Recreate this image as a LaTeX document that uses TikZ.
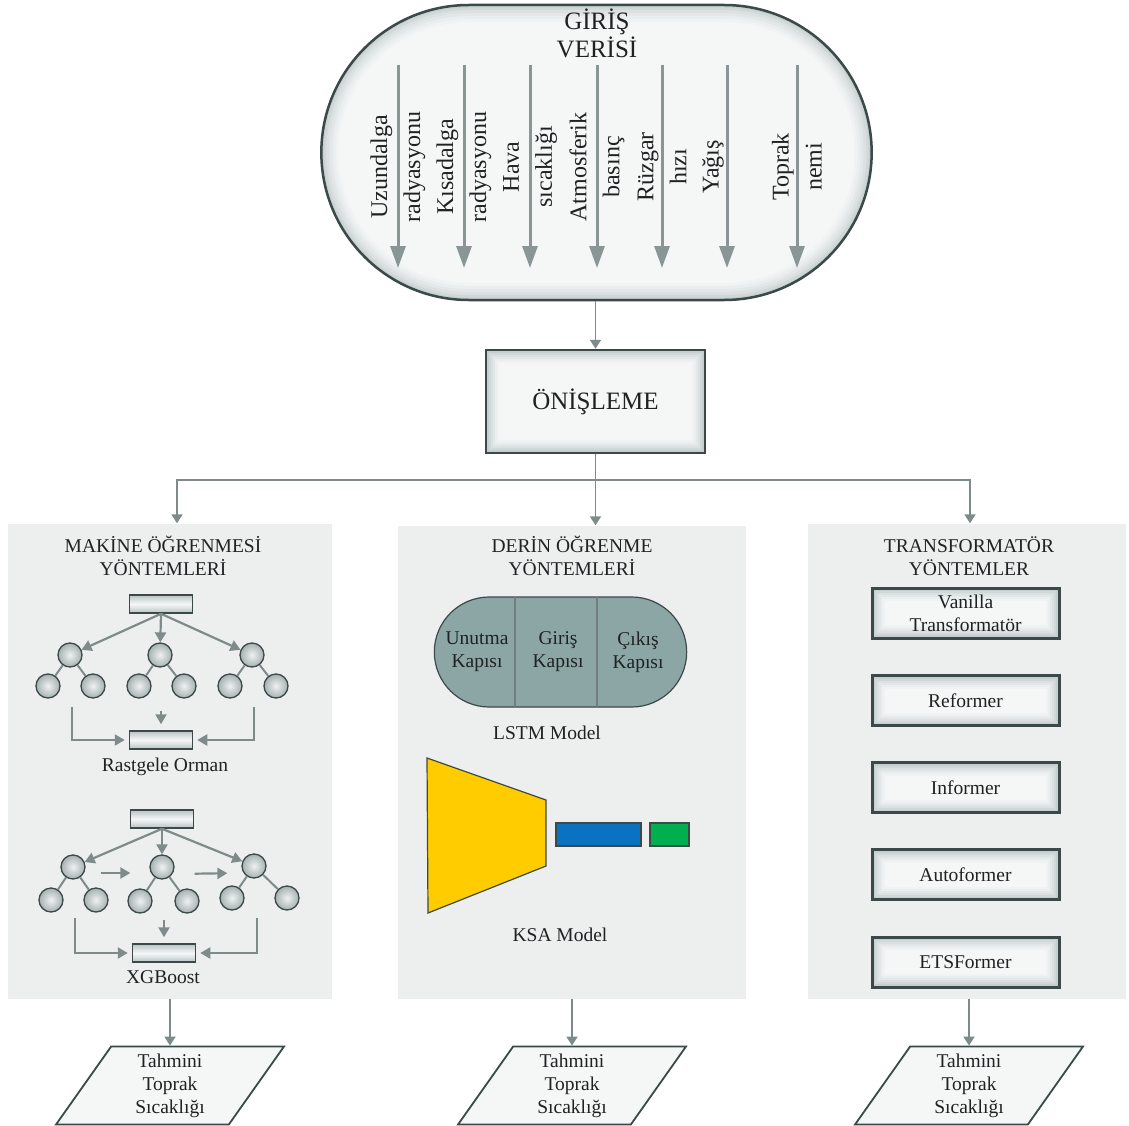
\documentclass[tikz,border=0pt]{standalone}
\usepackage{fontspec}
\setmainfont{Liberation Serif}
\usetikzlibrary{arrows.meta,shapes.misc,shapes.geometric,calc}
\definecolor{dk}{HTML}{3B4949}
\definecolor{arr}{HTML}{7F8B8B}
\definecolor{arrb}{HTML}{8A9595}
\definecolor{panelc}{HTML}{EDEFEF}
\definecolor{boxf}{HTML}{F5F7F7}
\definecolor{ga}{HTML}{E8ECEC}
\definecolor{gc}{HTML}{B9C3C3}
\definecolor{ballo}{HTML}{A7B1B1}
\definecolor{balli}{HTML}{EEF1F1}
\definecolor{lstmc}{HTML}{8CA6A6}
\definecolor{ksay}{HTML}{FFCC00}
\definecolor{ksab}{HTML}{0A72C0}
\definecolor{ksag}{HTML}{00B050}
\definecolor{txtc}{HTML}{1E2222}
\tikzset{
  lbl/.style={text=txtc, font=\fontsize{19.5}{23}\selectfont, align=center, inner sep=0pt},
  big/.style={text=txtc, font=\fontsize{25}{28}\selectfont, align=center, inner sep=0pt},
  vlbl/.style={text=txtc, font=\fontsize{24}{33}\selectfont, align=center, inner sep=0pt, rotate=90},
  flow/.style={draw=arr, line width=1.8pt, -{Triangle[width=11pt,length=9pt]}},
  tarr/.style={draw=arr, line width=2.2pt, -{Triangle[width=11pt,length=10pt]}},
  tline/.style={draw=arr, line width=2pt},
  inarr/.style={draw=arrb, line width=3pt, -{Triangle[width=15pt,length=22pt]}},
  glowrect/.style={path picture={
    \foreach \w/\p in {26/8,22/18,18/30,14/44,10/60,6/78}{
    \draw[line width=\w pt, gc!\p!boxf] (path picture bounding box.south west) rectangle (path picture bounding box.north east);}}},
  glowstad/.style={path picture={
    \foreach \w/\p in {34/8,28/18,22/30,16/44,10/60,5/78}{
    \draw[line width=\w pt, gc!\p!boxf, rounded corners=147pt] (path picture bounding box.south west) rectangle (path picture bounding box.north east);}}},
  panel/.style={rectangle, fill=panelc, inner sep=0pt},
  tbox/.style={rectangle, draw=dk, line width=3pt, fill=boxf, glowrect, minimum width=187pt, minimum height=50pt, lbl},
  sbox/.style={rectangle, draw=dk, line width=1.5pt, top color=gc, bottom color=gc, middle color=boxf, minimum width=63pt, minimum height=18pt, inner sep=0pt},
  ball/.style={circle, draw=dk, line width=1.3pt, inner color=balli, outer color=ballo, minimum size=24pt, inner sep=0pt},
  outp/.style={trapezium, trapezium left angle=63, trapezium right angle=117, trapezium stretches=true, draw=dk, line width=1.8pt, fill=boxf, minimum width=228pt, minimum height=78pt, inner sep=0pt},
}
\begin{document}
\begin{tikzpicture}[x=1pt,y=-1pt]
\useasboundingbox[fill=white] (0,0) rectangle (1129,1126);

% ---------- input stadium ----------
\node[rounded rectangle, draw=dk, line width=2.5pt, fill=boxf, glowstad, minimum width=557pt, minimum height=295pt] (inp) at (596.5,152.5) {};
\node[big] (inpt) at (597,33) {GİRİŞ\\VERİSİ};
\foreach \n/\x/\t in {a/398/{Uzundalga\\radyasyonu}, b/464/{Kısadalga\\radyasyonu}, c/530/{Hava\\sıcaklığı}, d/597/{Atmosferik\\basınç}, e/662/{Rüzgar\\hızı}, f/727/{Yağış\\~}, g/797/{Toprak\\nemi}}{
  \node[vlbl] (v\n) at (\x,167) {\t};
  \coordinate (s\n) at (\x,65);
  \coordinate (e\n) at (\x,268);
  \draw[inarr] (s\n) -- (e\n);
}

% ---------- preprocessing ----------
\node[rectangle, draw=dk, line width=2.5pt, fill=boxf, glowrect, minimum width=219pt, minimum height=103pt, big] (pre) at (595.5,401.5) {ÖNİŞLEME};
\draw[flow] (inp.south -| pre.north) -- (pre.north);

% ---------- panels ----------
\node[panel, minimum width=324pt, minimum height=475pt] (pL) at (170,761) {};
\node[panel, minimum width=348pt, minimum height=473pt] (pM) at (572,762) {};
\node[panel, minimum width=318pt, minimum height=475pt] (pR) at (967,761) {};
\coordinate (j) at (597,480);
\draw[flow] (pre.south) -- (pre.south |- pM.north);
\draw[flow] (j) -| ([xshift=7pt]pL.north);
\draw[flow] (j) -| ([xshift=3pt]pR.north);

\node[lbl] (tL) at (163,556) {MAKİNE ÖĞRENMESİ\\YÖNTEMLERİ};
\node[lbl] (tM) at (572,556) {DERİN ÖĞRENME\\YÖNTEMLERİ};
\node[lbl] (tR) at (969,556) {TRANSFORMATÖR\\YÖNTEMLER};

% ---------- random forest ----------
\node[sbox] (rftop) at (161,604) {};
\node[ball] (rfa) at (70,655) {};
\node[ball] (rfb) at (160,655) {};
\node[ball] (rfc) at (252,655) {};
\node[ball] (rfa1) at (48,686) {};
\node[ball] (rfa2) at (93,686) {};
\node[ball] (rfb1) at (139,686) {};
\node[ball] (rfb2) at (184,686) {};
\node[ball] (rfc1) at (230,686) {};
\node[ball] (rfc2) at (276,686) {};
\draw[tarr] (rftop.south) -- (rfa);
\draw[tarr] (rftop.south) -- (rfb);
\draw[tarr] (rftop.south) -- (rfc);
\foreach \p in {rfa,rfb,rfc}{\draw[tline] (\p) -- (\p1); \draw[tline] (\p) -- (\p2);}
\node[sbox] (rfbot) at (161,740) {};
\coordinate (rfl) at (72,707);
\coordinate (rfm) at (161,711);
\coordinate (rfr) at (254,707);
\draw[tarr, shorten >=4pt] (rfl) |- (rfbot.west);
\draw[tarr, shorten >=6pt] (rfm) -- (rfbot.north);
\draw[tarr, shorten >=4pt] (rfr) |- (rfbot.east);
\node[lbl] (rft) at (165,767) {Rastgele Orman};

% ---------- xgboost ----------
\node[sbox] (xgtop) at (162,819) {};
\node[ball] (xga) at (73,867) {};
\node[ball] (xgb) at (162,867) {};
\node[ball] (xgc) at (254,866) {};
\node[ball] (xga1) at (51,900) {};
\node[ball] (xga2) at (96,900) {};
\node[ball] (xgb1) at (140,901) {};
\node[ball] (xgb2) at (187,901) {};
\node[ball] (xgc1) at (232,898) {};
\node[ball] (xgc2) at (287,898) {};
\draw[tarr] (xgtop.south) -- (xga);
\draw[tarr] (xgtop.south) -- (xgb);
\draw[tarr] (xgtop.south) -- (xgc);
\foreach \p in {xga,xgb,xgc}{\draw[tline] (\p) -- (\p1); \draw[tline] (\p) -- (\p2);}
\draw[tarr, shorten <=15pt, shorten >=19pt] ([yshift=-6pt]xga.east) -- ([yshift=-6pt]xgb.west);
\draw[tarr, shorten <=20pt, shorten >=14pt] ([yshift=-7pt]xgb.east) -- ([yshift=-7pt]xgc.west);
\node[sbox] (xgbot) at (164,953) {};
\coordinate (xgl) at (75,918);
\coordinate (xgm) at (164,920);
\coordinate (xgr) at (257,918);
\draw[tarr, shorten >=4pt] (xgl) |- (xgbot.west);
\draw[tarr, shorten >=6pt] (xgm) -- (xgbot.north);
\draw[tarr, shorten >=4pt] (xgr) |- (xgbot.east);
\node[lbl] (xgt) at (163,977) {XGBoost};

% ---------- LSTM ----------
\node[rounded rectangle, draw=dk, line width=1.2pt, fill=lstmc, minimum width=259pt, minimum height=110pt] (lstm) at (560.5,652) {};
\draw[draw=arr!80!dk, line width=1.5pt] (515,597) -- (515,707);
\draw[draw=arr!80!dk, line width=1.5pt] (597,597) -- (597,707);
\node[lbl] (g1) at (477,652) {Unutma\\Kapısı};
\node[lbl] (g2) at (558,652) {Giriş\\Kapısı};
\node[lbl] (g3) at (638,652) {Çıkış\\Kapısı};
\node[lbl] (lstmt) at (547,733) {LSTM Model};

% ---------- KSA ----------
\draw[fill=ksay, draw=dk, line width=1.2pt] (427,758) -- (546,800) -- (546,866) -- (428,913) -- cycle;
\node[rectangle, fill=ksab, draw=dk, line width=1.2pt, minimum width=85pt, minimum height=23pt, inner sep=0pt] (ksab) at (598.5,834.5) {};
\node[rectangle, fill=ksag, draw=dk, line width=1.2pt, minimum width=39pt, minimum height=23pt, inner sep=0pt] (ksag) at (669.5,834.5) {};
\node[lbl] (ksat) at (560,935) {KSA Model};

% ---------- transformers ----------
\node[tbox] (t1) at (965.5,613) {Vanilla\\Transformatör};
\node[tbox] (t2) at (965.5,700.5) {Reformer};
\node[tbox] (t3) at (965.5,787.5) {Informer};
\node[tbox] (t4) at (965.5,874.5) {Autoformer};
\node[tbox] (t5) at (965.5,962) {ETSFormer};

% ---------- outputs ----------
\node[outp, lbl] (oL) at (170,1085.5) {Tahmini\\Toprak\\Sıcaklığı};
\node[outp, lbl] (oM) at (572,1085.5) {Tahmini\\Toprak\\Sıcaklığı};
\node[outp, lbl] (oR) at (969,1085.5) {Tahmini\\Toprak\\Sıcaklığı};
\draw[flow] (oL.north |- pL.south) -- (oL.north);
\draw[flow] (oM.north |- pM.south) -- (oM.north);
\draw[flow] (oR.north |- pR.south) -- (oR.north);
\end{tikzpicture}
\end{document}
